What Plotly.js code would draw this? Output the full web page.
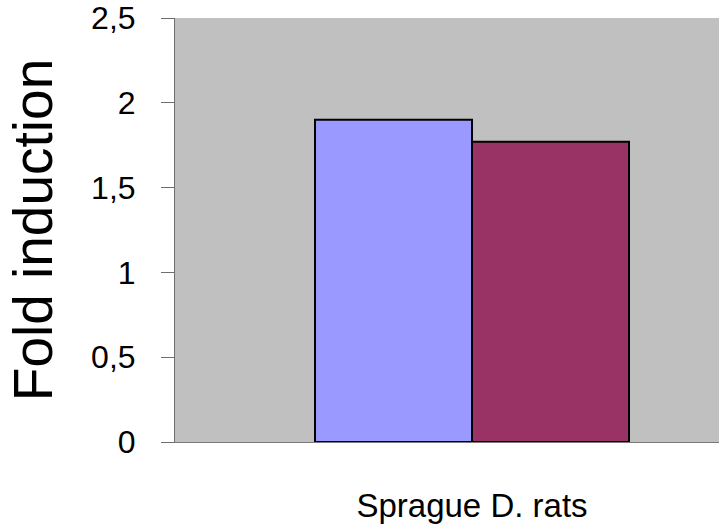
<!DOCTYPE html>
<html>
<head>
<meta charset="utf-8">
<script src="https://cdn.plot.ly/plotly-3.0.1.min.js"></script>
<style>html,body{margin:0;padding:0;background:#fff}#chart{width:719px;height:526px}</style>
</head>
<body>
<div id="chart"></div>
<script>
const categories = ["Sprague D. rats"];
const seriesA = [1.90];
const seriesB = [1.77];
const yTickVals = [0, 0.5, 1, 1.5, 2, 2.5];
const yTickText = ["0", "0,5", "1", "1,5", "2", "2,5"];

const font = "Arial, 'Liberation Sans', sans-serif";
const traces = [
  {type: "bar", x: categories, y: seriesA, name: "A",
   marker: {color: "#9999FF", line: {color: "#000000", width: 2}}},
  {type: "bar", x: categories, y: seriesB, name: "B",
   marker: {color: "#993366", line: {color: "#000000", width: 2}}}
];
const layout = {
  width: 719, height: 526,
  margin: {l: 175, r: 0, t: 18, b: 84},
  paper_bgcolor: "#ffffff",
  plot_bgcolor: "#C0C0C0",
  showlegend: false,
  barmode: "group",
  bargap: 0.4714,
  bargroupgap: 0,
  font: {family: font, color: "#000"},
  xaxis: {
    type: "category",
    range: [-0.5, 0.4158],
    showgrid: false, zeroline: false,
    showline: true, linecolor: "#7a7a7a", linewidth: 1,
    ticks: "", ticklabelstandoff: 34,
    tickfont: {size: 33, family: font, color: "#000"}
  },
  yaxis: {
    range: [0, 2.5],
    tickvals: yTickVals, ticktext: yTickText,
    showgrid: false, zeroline: false,
    showline: true, linecolor: "#6e6e6e", linewidth: 1,
    ticks: "outside", ticklen: 13, tickcolor: "#6e6e6e",
    ticklabelstandoff: 19,
    tickfont: {size: 32, family: font, color: "#000"},
    title: {text: "Fold induction", font: {size: 55, family: font, color: "#000"}, standoff: 20}
  }
};
Plotly.newPlot("chart", traces, layout, {staticPlot: true, displayModeBar: false});
</script>
</body>
</html>
